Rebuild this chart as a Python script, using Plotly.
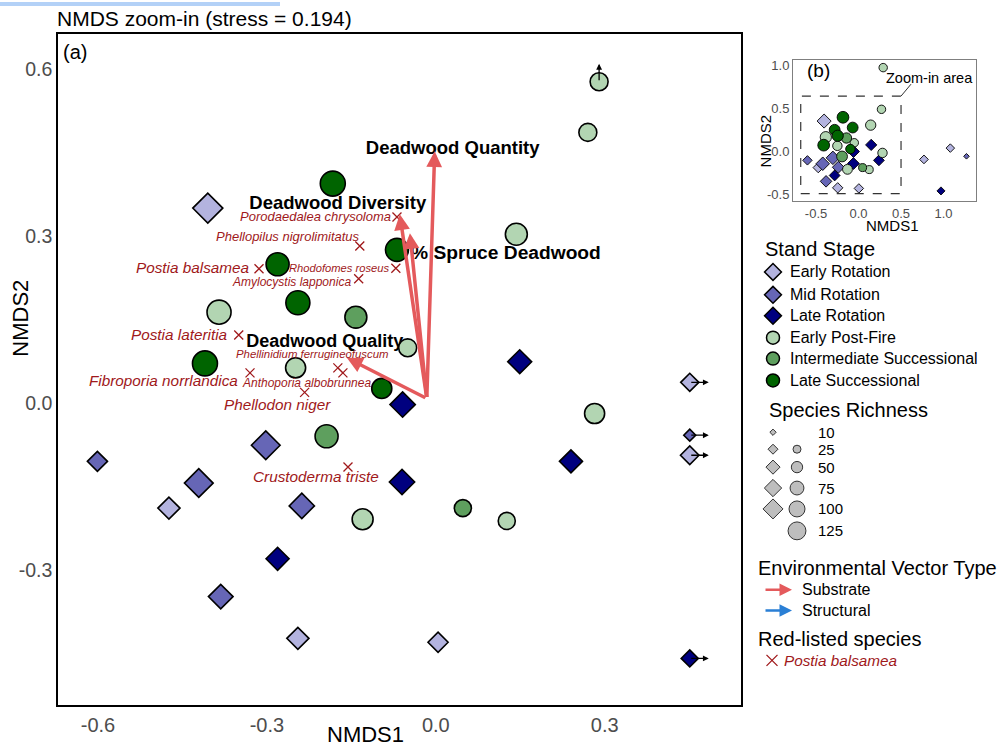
import plotly.graph_objects as go

FONT = "Liberation Sans, Arial, Helvetica, sans-serif"
GREY_TXT = "#4D4D4D"
SPECIES_RED = "#A0191B"
VEC_RED = "#E45A5C"
VEC_BLUE = "#2A7FD5"

# ---------------- data ----------------
stage_names = ["Early Rotation", "Mid Rotation", "Late Rotation",
               "Early Post-Fire", "Intermediate Successional", "Late Successional"]
stage_colors = ["#B3B3DF", "#6666B6", "#00007F", "#B2D5B2", "#5E9F5E", "#006400"]
stage_symbols = ["diamond", "diamond", "diamond", "circle", "circle", "circle"]

site_stage = (["Early Post-Fire"] * 9 + ["Intermediate Successional"] * 3 +
              ["Late Successional"] * 6 + ["Early Rotation"] * 6 +
              ["Mid Rotation"] * 6 + ["Late Rotation"] * 6)
site_nmds1 = [0.29, 0.270, 0.143, -0.385, -0.050, -0.249, 0.282, -0.130, 0.126,
              -0.142, -0.194, 0.048,
              -0.183, -0.069, -0.281, -0.245, -0.410, -0.096,
              -0.405, -0.474, -0.245, 0.004, 1.08, 0.77,
              -0.601, -0.302, -0.421, -0.238, -0.382, 1.27,
              0.149, -0.059, -0.060, 0.240, -0.281, 0.97]
site_nmds2 = [0.97, 0.487, 0.304, 0.164, 0.100, 0.064, -0.018, -0.208, -0.211,
              0.155, -0.059, -0.188,
              0.395, 0.276, 0.250, 0.181, 0.072, 0.027,
              0.351, -0.188, -0.422, -0.429, 0.038, -0.093,
              -0.104, -0.075, -0.143, -0.184, -0.347, -0.057,
              0.075, -0.002, -0.141, -0.104, -0.279, -0.458]
site_richness = [61, 61, 91, 109, 61, 76, 76, 83, 55,
                 91, 100, 55,
                 118, 100, 100, 109, 118, 76,
                 107, 58, 58, 48, 39, 41,
                 48, 98, 98, 76, 72, 17,
                 68, 76, 76, 63, 63, 35]

species_names = ["Porodaedalea chrysoloma", "Phellopilus nigrolimitatus", "Postia balsamea",
                 "Rhodofomes roseus", "Amylocystis lapponica", "Postia lateritia",
                 "Phellinidium ferrugineofuscum", "Anthoporia albobrunnea",
                 "Fibroporia norrlandica", "Phellodon niger", "Crustoderma triste"]
species_nmds1 = [-0.069, -0.135, -0.314, -0.071, -0.137, -0.350, -0.174, -0.165, -0.330, -0.233, -0.156]
species_nmds2 = [0.335, 0.283, 0.242, 0.243, 0.224, 0.123, 0.064, 0.055, 0.055, 0.020, -0.114]

vector_names = ["Deadwood Quantity", "Deadwood Diversity", "% Spruce Deadwood", "Deadwood Quality"]
vector_nmds1 = [-0.002, -0.064, -0.046, -0.158]
vector_nmds2 = [0.453, 0.340, 0.306, 0.082]
vector_origin = [-0.016, 0.009]

legend_richness = [10, 25, 50, 75, 100, 125]
legend_diamond_values = [10, 25, 50, 75, 100]
legend_circle_values = [25, 50, 75, 100, 125]

# ---------------- layout constants (pixels) ----------------
W, H = 1000, 746
MAIN_L, MAIN_R, MAIN_T, MAIN_B = 58, 741, 32, 706
X_RANGE = [-0.671, 0.542]
Y_RANGE = [-0.542, 0.664]
X_CLIP, Y_CLIP = 0.451, 0.578
INSET_L, INSET_R, INSET_T, INSET_B = 793, 976, 58, 200
IX_RANGE = [-0.771, 1.382]
IY_RANGE = [-0.577, 1.061]
ZOOM_BOX = [-0.68, 0.50, -0.49, 0.64]

px_x = (MAIN_R - MAIN_L) / (X_RANGE[1] - X_RANGE[0])
px_y = (MAIN_B - MAIN_T) / (Y_RANGE[1] - Y_RANGE[0])
ipx_x = (INSET_R - INSET_L) / (IX_RANGE[1] - IX_RANGE[0])
ipx_y = (INSET_B - INSET_T) / (IY_RANGE[1] - IY_RANGE[0])


def dom_x(l, r):
    return [l / W, r / W]


def dom_y(t, b):
    return [1 - b / H, 1 - t / H]


def size_main(v, sym):
    if sym == "diamond":
        return 2.9 * v ** 0.5 / 1.3
    return 2.3 * v ** 0.5


def size_legend(v, sym):
    if sym == "diamond":
        return 2.0 * v ** 0.5 / 1.3
    return 1.6 * v ** 0.5


# label offsets (pixels, +y up)
vector_label_offsets = [(18, 2), (-62, 10), (96, -21), (-22, 15)]
vector_label_sizes = [18.5, 18.5, 19.2, 18]
species_label_style = [
    ("right", -4, 1, 13), ("right", 2, 9, 13), ("right", -8, 1, 15.3),
    ("right", -4, 0, 11.2), ("right", -6, -3, 12), ("right", -10, 1, 15.3),
    ("center", -25, 14, 11.4), ("center", -36, -10, 12), ("right", -10, -8, 15.3),
    ("center", -27, -12, 15.3), ("center", -32, -10, 15.3)]

fig = go.Figure()

# vector labels (under points)
vl_x = [x + dx / px_x for x, (dx, dy) in zip(vector_nmds1, vector_label_offsets)]
vl_y = [y + dy / px_y for y, (dx, dy) in zip(vector_nmds2, vector_label_offsets)]
fig.add_trace(go.Scatter(
    x=vl_x, y=vl_y, mode="text", text=["<b>%s</b>" % n for n in vector_names],
    textposition="middle center",
    textfont=dict(family=FONT, size=vector_label_sizes, color="black"),
    hoverinfo="skip", showlegend=False, cliponaxis=False))

# species crosses
fig.add_trace(go.Scatter(
    x=species_nmds1, y=species_nmds2, mode="markers",
    marker=dict(symbol="x-thin", size=9, color=SPECIES_RED, opacity=1,
                line=dict(width=1.3, color=SPECIES_RED)),
    hoverinfo="skip", showlegend=False))

annotations = []
shapes = []

# main-panel sites
for si, name in enumerate(stage_names):
    idx = [i for i, s in enumerate(site_stage) if s == name]
    xs = [min(site_nmds1[i], X_CLIP) for i in idx]
    ys = [min(site_nmds2[i], Y_CLIP) for i in idx]
    sz = [size_main(site_richness[i], stage_symbols[si]) for i in idx]
    fig.add_trace(go.Scatter(
        x=xs, y=ys, mode="markers",
        marker=dict(symbol=stage_symbols[si], size=sz, color=stage_colors[si], opacity=1,
                    line=dict(color="black", width=1.6)),
        hoverinfo="skip", showlegend=False, cliponaxis=False))
    for i, x, y in zip(idx, xs, ys):
        if site_nmds1[i] > X_CLIP:
            annotations.append(dict(x=x + 19 / px_x, y=y, ax=x, ay=y, xref="x", yref="y",
                                    axref="x", ayref="y", text="", showarrow=True,
                                    arrowhead=2, arrowsize=0.9, arrowwidth=1.3, arrowcolor="black"))
        if site_nmds2[i] > Y_CLIP:
            annotations.append(dict(x=x, y=y + 18 / px_y, ax=x, ay=y, xref="x", yref="y",
                                    axref="x", ayref="y", text="", showarrow=True,
                                    arrowhead=2, arrowsize=0.9, arrowwidth=1.3, arrowcolor="black"))

# environmental vectors
for vx, vy in zip(vector_nmds1, vector_nmds2):
    annotations.append(dict(x=vx, y=vy, ax=vector_origin[0], ay=vector_origin[1],
                            xref="x", yref="y", axref="x", ayref="y", text="",
                            showarrow=True, arrowhead=2, arrowsize=0.9, arrowwidth=3.5,
                            arrowcolor=VEC_RED))

# species labels
for n, x, y, (anc, dx, dy, fs) in zip(species_names, species_nmds1, species_nmds2, species_label_style):
    annotations.append(dict(x=x, y=y, xref="x", yref="y", text="<i>%s</i>" % n,
                            showarrow=False, xanchor=anc, yanchor="middle",
                            xshift=dx, yshift=dy,
                            font=dict(family=FONT, size=fs, color=SPECIES_RED)))

# inset sites
for si, name in enumerate(stage_names):
    idx = [i for i, s in enumerate(site_stage) if s == name]
    fig.add_trace(go.Scatter(
        x=[site_nmds1[i] for i in idx], y=[site_nmds2[i] for i in idx], mode="markers",
        marker=dict(symbol=stage_symbols[si], opacity=1,
                    size=[0.47 * size_main(site_richness[i], stage_symbols[si]) for i in idx],
                    color=stage_colors[si], line=dict(color="black", width=0.9)),
        xaxis="x2", yaxis="y2", hoverinfo="skip", showlegend=False))

shapes.append(dict(type="rect", xref="x2", yref="y2", x0=ZOOM_BOX[0], x1=ZOOM_BOX[1],
                   y0=ZOOM_BOX[2], y1=ZOOM_BOX[3], line=dict(color="#333333", width=1.2, dash="dash")))
shapes.append(dict(type="line", xref="x2", yref="y2", x0=ZOOM_BOX[1], y0=ZOOM_BOX[3],
                   x1=ZOOM_BOX[1] + 10 / ipx_x, y1=ZOOM_BOX[3] + 12 / ipx_y,
                   line=dict(color="#333333", width=1)))
annotations.append(dict(x=929, y=76, xref="x3", yref="y3", text="Zoom-in area", showarrow=False,
                        font=dict(family=FONT, size=14.5, color="black")))
annotations.append(dict(x=805, y=69, xref="x3", yref="y3", text="(b)", showarrow=False,
                        xanchor="left", font=dict(family=FONT, size=19, color="black")))
annotations.append(dict(x=892, y=224, xref="x3", yref="y3", text="NMDS1", showarrow=False,
                        font=dict(family=FONT, size=15, color="black")))
annotations.append(dict(x=765, y=140, xref="x3", yref="y3", text="NMDS2", showarrow=False,
                        textangle=-90, font=dict(family=FONT, size=15, color="black")))

# ---------------- legend ----------------
LEG_TITLE = dict(family=FONT, size=20, color="black")
LEG_TXT = dict(family=FONT, size=16, color="black")
annotations.append(dict(x=763, y=248, xref="x3", yref="y3", text="Stand Stage", showarrow=False,
                        xanchor="left", font=LEG_TITLE))
stage_rows = [271, 294, 315, 337, 358, 380]
for si, name in enumerate(stage_names):
    fig.add_trace(go.Scatter(
        x=[773], y=[stage_rows[si]], mode="markers", xaxis="x3", yaxis="y3",
        marker=dict(symbol=stage_symbols[si], size=13, color=stage_colors[si], opacity=1,
                    line=dict(color="black", width=1.5)),
        hoverinfo="skip", showlegend=False))
    annotations.append(dict(x=788, y=stage_rows[si], xref="x3", yref="y3", text=name,
                            showarrow=False, xanchor="left", font=LEG_TXT))

annotations.append(dict(x=767, y=410, xref="x3", yref="y3", text="Species Richness", showarrow=False,
                        xanchor="left", font=LEG_TITLE))
rich_rows = dict(zip(legend_richness, [432, 449, 467, 488, 509, 531]))
fig.add_trace(go.Scatter(
    x=[773] * len(legend_diamond_values), y=[rich_rows[v] for v in legend_diamond_values],
    mode="markers", xaxis="x3", yaxis="y3",
    marker=dict(symbol="diamond", size=[size_legend(v, "diamond") for v in legend_diamond_values],
                color="#BEBEBE", opacity=1, line=dict(color="#333333", width=1)),
    hoverinfo="skip", showlegend=False))
fig.add_trace(go.Scatter(
    x=[797] * len(legend_circle_values), y=[rich_rows[v] for v in legend_circle_values],
    mode="markers", xaxis="x3", yaxis="y3",
    marker=dict(symbol="circle", size=[size_legend(v, "circle") for v in legend_circle_values],
                color="#BEBEBE", opacity=1, line=dict(color="#333333", width=1)),
    hoverinfo="skip", showlegend=False))
for v in legend_richness:
    annotations.append(dict(x=816, y=rich_rows[v], xref="x3", yref="y3", text=str(v),
                            showarrow=False, xanchor="left", font=dict(family=FONT, size=15, color="black")))

annotations.append(dict(x=756, y=568, xref="x3", yref="y3", text="Environmental Vector Type",
                        showarrow=False, xanchor="left", font=LEG_TITLE))
for yy, col, lab in [(590, VEC_RED, "Substrate"), (611, VEC_BLUE, "Structural")]:
    annotations.append(dict(x=792, y=yy, ax=764, ay=yy, xref="x3", yref="y3", axref="x3", ayref="y3",
                            text="", showarrow=True, arrowhead=2, arrowsize=1, arrowwidth=2.5,
                            arrowcolor=col))
    annotations.append(dict(x=800, y=yy, xref="x3", yref="y3", text=lab, showarrow=False,
                            xanchor="left", font=LEG_TXT))
annotations.append(dict(x=756, y=640, xref="x3", yref="y3", text="Red-listed species",
                        showarrow=False, xanchor="left", font=LEG_TITLE))
fig.add_trace(go.Scatter(
    x=[772], y=[661], mode="markers", xaxis="x3", yaxis="y3",
    marker=dict(symbol="x-thin", size=11, color=SPECIES_RED, opacity=1,
                line=dict(width=1.3, color=SPECIES_RED)),
    hoverinfo="skip", showlegend=False))
annotations.append(dict(x=782, y=661, xref="x3", yref="y3", text="<i>%s</i>" % species_names[2],
                        showarrow=False, xanchor="left", font=dict(family=FONT, size=15.3, color=SPECIES_RED)))

# ---------------- titles ----------------
annotations.append(dict(x=55, y=17, xref="x3", yref="y3", text="NMDS zoom-in (stress = 0.194)",
                        showarrow=False, xanchor="left", font=dict(family=FONT, size=21, color="black")))
annotations.append(dict(x=61, y=50, xref="x3", yref="y3", text="(a)", showarrow=False,
                        xanchor="left", font=dict(family=FONT, size=20, color="black")))
annotations.append(dict(x=365, y=735, xref="x3", yref="y3", text="NMDS1", showarrow=False,
                        font=dict(family=FONT, size=22, color="black")))
annotations.append(dict(x=21, y=318, xref="x3", yref="y3", text="NMDS2", showarrow=False,
                        textangle=-90, font=dict(family=FONT, size=22, color="black")))

# screenshot artefact bar at top-left
shapes.append(dict(type="rect", xref="paper", yref="paper", x0=0, x1=280 / W, y0=1 - 4 / H, y1=1,
                   fillcolor="#B3D1F7", line=dict(width=0), layer="above"))

fig.update_layout(
    width=W, height=H, margin=dict(l=0, r=0, t=0, b=0, pad=0),
    paper_bgcolor="white", plot_bgcolor="rgba(0,0,0,0)",
    showlegend=False, font=dict(family=FONT),
    xaxis=dict(domain=dom_x(MAIN_L, MAIN_R), range=X_RANGE, showgrid=False, zeroline=False,
               showline=True, mirror=True, linecolor="black", linewidth=1.5,
               tickvals=[-0.6, -0.3, 0.0, 0.3], ticktext=["-0.6", "-0.3", "0.0", "0.3"],
               ticks="outside", ticklen=1, tickcolor="rgba(0,0,0,0)",
               tickfont=dict(family=FONT, size=20, color=GREY_TXT), anchor="y"),
    yaxis=dict(domain=dom_y(MAIN_T, MAIN_B), range=Y_RANGE, showgrid=False, zeroline=False,
               showline=True, mirror=True, linecolor="black", linewidth=1.5,
               tickvals=[-0.3, 0.0, 0.3, 0.6], ticktext=["-0.3", "0.0", "0.3", "0.6"],
               ticks="", tickfont=dict(family=FONT, size=19.5, color=GREY_TXT), anchor="x"),
    xaxis2=dict(domain=dom_x(INSET_L, INSET_R), range=IX_RANGE, showgrid=False, zeroline=False,
                showline=True, mirror=True, linecolor="#7F7F7F", linewidth=1,
                tickvals=[-0.5, 0.0, 0.5, 1.0], ticktext=["-0.5", "0.0", "0.5", "1.0"],
                ticks="", tickfont=dict(family=FONT, size=13, color=GREY_TXT), anchor="y2"),
    yaxis2=dict(domain=dom_y(INSET_T, INSET_B), range=IY_RANGE, showgrid=False, zeroline=False,
                showline=True, mirror=True, linecolor="#7F7F7F", linewidth=1,
                tickvals=[-0.5, 0.0, 0.5, 1.0], ticktext=["-0.5", "0.0", "0.5", "1.0"],
                ticks="", tickfont=dict(family=FONT, size=13, color=GREY_TXT), anchor="x2"),
    xaxis3=dict(domain=[0, 1], range=[0, W], visible=False, anchor="y3", fixedrange=True),
    yaxis3=dict(domain=[0, 1], range=[H, 0], visible=False, anchor="x3", fixedrange=True),
    annotations=annotations, shapes=shapes,
)

fig.write_html("out.html", config={"displayModeBar": False},
               post_script="document.body.style.margin='0px';document.body.style.overflow='hidden';")
